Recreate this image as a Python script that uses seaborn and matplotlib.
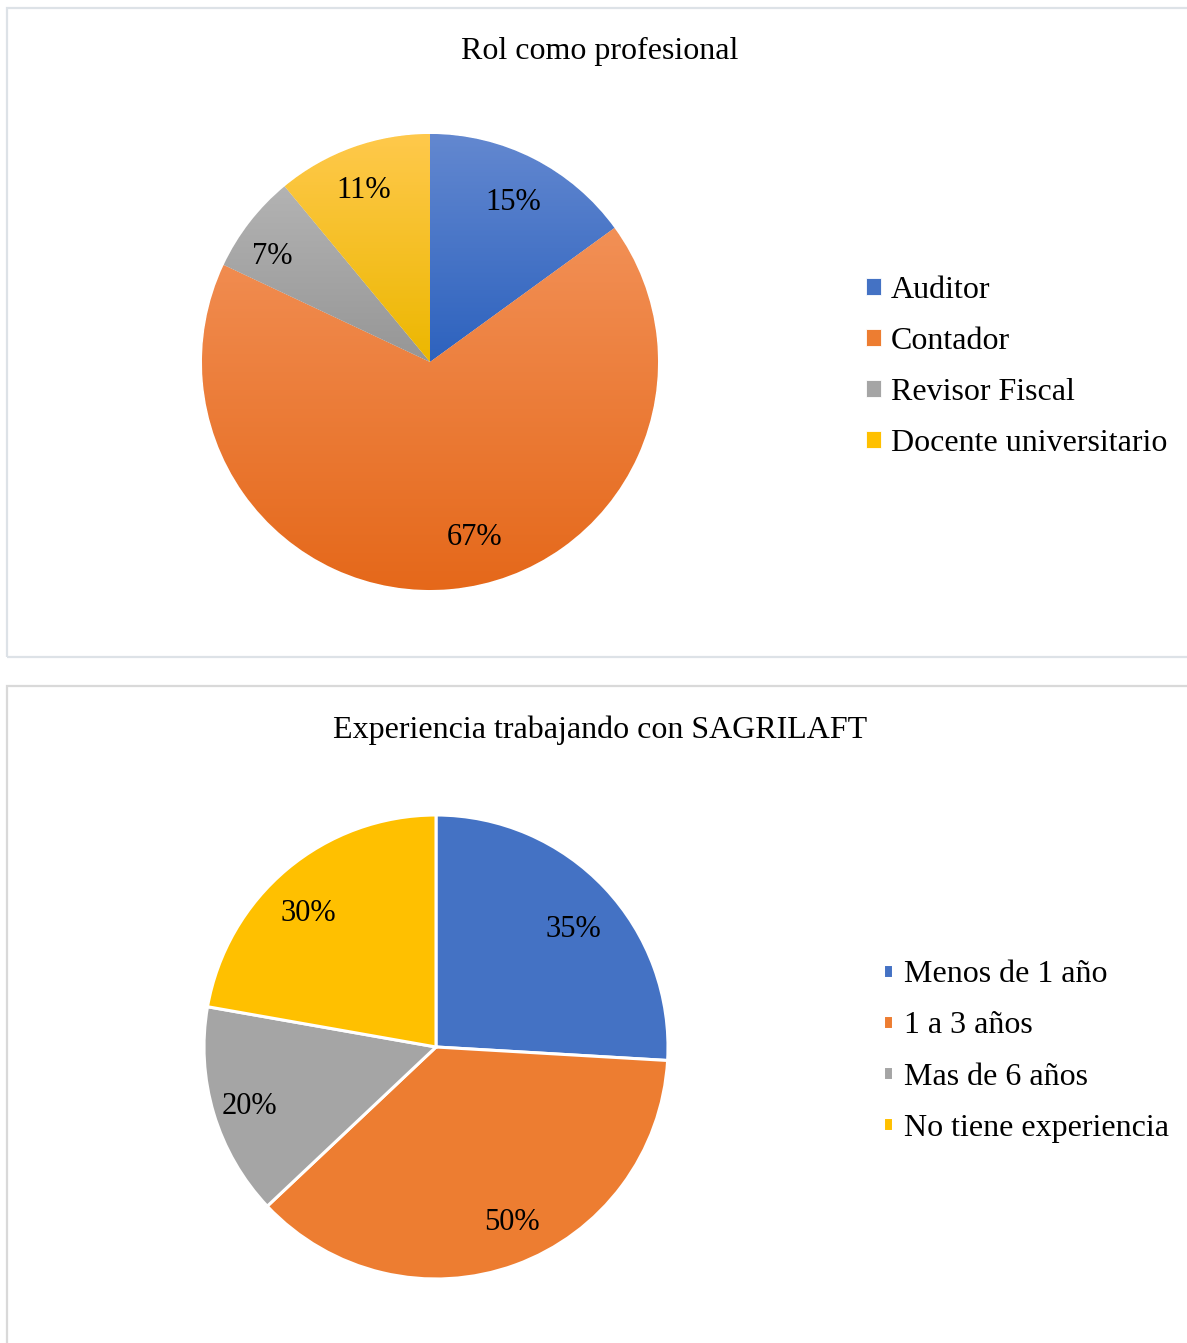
import matplotlib
matplotlib.use("Agg")
import matplotlib.pyplot as plt
import seaborn as sns
import numpy as np
from matplotlib.colors import LinearSegmentedColormap
from matplotlib.patches import Rectangle

sns.set_theme(style="white")
plt.rcParams['font.family'] = ['Liberation Serif', 'DejaVu Serif']
plt.rcParams['text.color'] = 'black'

# ---------------- data ----------------
title1 = "Rol como profesional"
cats1 = ["Auditor", "Contador", "Revisor Fiscal", "Docente universitario"]
vals1 = [15, 67, 7, 11]
grad_top1 = ["#6388D0", "#F29056", "#B3B3B3", "#FFC94C"]
grad_bot1 = ["#2D62BE", "#E5681A", "#969696", "#ECB700"]
mid1 = ["#4472C4", "#ED7D31", "#A5A5A5", "#FFC000"]

title2 = "Experiencia trabajando con SAGRILAFT"
cats2 = ["Menos de 1 año", "1 a 3 años", "Mas de 6 años", "No tiene experiencia"]
vals2 = [35, 50, 20, 30]
colors2 = ["#4472C4", "#ED7D31", "#A5A5A5", "#FFC000"]

# label placement styling (angle shift in degrees, radial distance)
lab_shift1 = [0, 9, 3, 1]
lab_dist1 = [0.80, 0.78, 0.84, 0.82]
lab_shift2 = [-2, 4, 0, 3]
lab_dist2 = [0.79, 0.81, 0.84, 0.81]

W, H = 1187, 1343
fig = plt.figure(figsize=(W / 100, H / 100), dpi=100)
LIM = 1.1


def px_axes(cx, cy, r):
    side = 2 * LIM * r
    return fig.add_axes([(cx - side / 2) / W, (H - cy - side / 2) / H, side / W, side / H])


def pct_fmt(vals):
    tot = sum(vals)
    return lambda p: f"{int(round(p * tot / 100))}%"


def place_labels(wedges, texts, shifts, dists):
    for w, t, s, d in zip(wedges, texts, shifts, dists):
        ang = np.deg2rad((w.theta1 + w.theta2) / 2 + s)
        t.set_position((d * np.cos(ang), d * np.sin(ang)))
        t.set_va("center_baseline")


# ---------------- frames ----------------
fig.add_artist(Rectangle((7 / W, (H - 657) / H), (1195 - 7) / W, (657 - 8) / H,
                         transform=fig.transFigure, fill=False, ec="#DDE2E7", lw=1.6))
fig.add_artist(Rectangle((7 / W, (H - 1350) / H), (1195 - 7) / W, (1350 - 686) / H,
                         transform=fig.transFigure, fill=False, ec="#D9D9D9", lw=1.6))

# ---------------- top pie ----------------
ax1 = px_axes(430, 362, 228)
wedges1, _, autot1 = ax1.pie(vals1, colors=mid1, startangle=90, counterclock=False,
                             autopct=pct_fmt(vals1), pctdistance=0.81,
                             wedgeprops=dict(edgecolor="white", linewidth=0.6),
                             textprops=dict(fontsize=22, color="black"))
place_labels(wedges1, autot1, lab_shift1, lab_dist1)
grad = np.linspace(0, 1, 256).reshape(-1, 1)
for w, ct, cb in zip(wedges1, grad_top1, grad_bot1):
    ext = w.get_path().get_extents()
    cmap = LinearSegmentedColormap.from_list("g", [cb, ct])
    im = ax1.imshow(grad, cmap=cmap, extent=[ext.x0, ext.x1, ext.y0, ext.y1],
                    origin="lower", aspect="auto", zorder=1.5, interpolation="bilinear")
    im.set_clip_path(w)
ax1.set_xlim(-LIM, LIM)
ax1.set_ylim(-LIM, LIM)
ax1.axis("off")

fig.text(600 / W, 1 - 51 / H, title1, ha="center", va="center", fontsize=23, color="black")
ax1.legend(wedges1, cats1, loc="center left",
           bbox_to_anchor=(866 / W, 1 - 367 / H), bbox_transform=fig.transFigure,
           frameon=False, fontsize=23, handlelength=0.47, handleheight=0.47,
           handletextpad=0.32, labelspacing=0.69, borderpad=0, borderaxespad=0,
           labelcolor="black")

# ---------------- bottom pie ----------------
ax2 = px_axes(436, 1047, 232)
wedges2, _, autot2 = ax2.pie(vals2, colors=colors2, startangle=90, counterclock=False,
                             autopct=pct_fmt(vals2), pctdistance=0.81,
                             wedgeprops=dict(edgecolor="white", linewidth=2.2),
                             textprops=dict(fontsize=22, color="black"))
place_labels(wedges2, autot2, lab_shift2, lab_dist2)
ax2.set_xlim(-LIM, LIM)
ax2.set_ylim(-LIM, LIM)
ax2.axis("off")

fig.text(600 / W, 1 - 730 / H, title2, ha="center", va="center", fontsize=23, color="black")
ax2.legend(wedges2, cats2, loc="center left",
           bbox_to_anchor=(883 / W, 1 - 1051.5 / H), bbox_transform=fig.transFigure,
           frameon=False, fontsize=23, handlelength=0.31, handleheight=0.31,
           handletextpad=0.34, labelspacing=0.69, borderpad=0, borderaxespad=0,
           labelcolor="black")

fig.savefig("out.png", dpi=100)
